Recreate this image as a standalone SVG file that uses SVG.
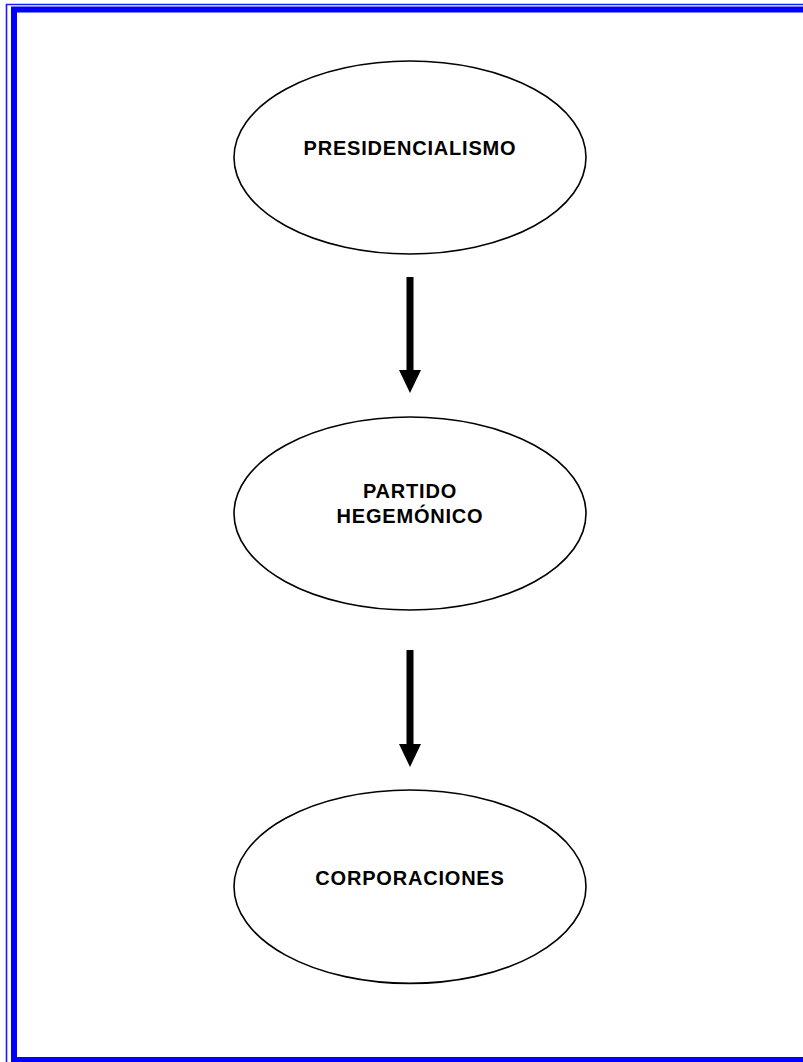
<svg xmlns="http://www.w3.org/2000/svg" width="803" height="1062" viewBox="0 0 803 1062">
  <style>
    .node ellipse { fill: #ffffff; stroke: #000000; stroke-width: 1.6; }
    .node text { font-family: "Liberation Sans", Arial, sans-serif; font-weight: bold; font-size: 20px; letter-spacing: 0.8px; fill: #000000; text-anchor: middle; }
    .shaft { fill: #000000; }
    .frame-thin { fill: none; stroke: #1a1aff; stroke-width: 1.6; }
    .frame-thick { fill: none; stroke: #0000ff; stroke-width: 6; }
  </style>
  <rect x="0" y="0" width="803" height="1062" fill="#ffffff"/>
  <g id="frame">
    <path class="frame-thin" d="M6.5,1062 V4.5 H803"/>
    <path class="frame-thick" d="M14,1070 V9.5 H810 M11,1060 H810"/>
  </g>
  <g id="connectors">
    <g id="arrow1">
      <rect class="shaft" x="406.5" y="277" width="7" height="94"/>
      <polygon class="shaft" points="399,370 421,370 410,393"/>
    </g>
    <g id="arrow2">
      <rect class="shaft" x="406.5" y="650" width="7" height="95"/>
      <polygon class="shaft" points="399,744 421,744 410,767"/>
    </g>
  </g>
  <g id="node-presidencialismo" class="node">
    <ellipse cx="410" cy="157.5" rx="176" ry="96.5"/>
    <text x="410" y="155">PRESIDENCIALISMO</text>
  </g>
  <g id="node-partido" class="node">
    <ellipse cx="410" cy="513.5" rx="176" ry="96.5"/>
    <text x="410" y="498">PARTIDO</text>
    <text x="410" y="523">HEGEMÓNICO</text>
  </g>
  <g id="node-corporaciones" class="node">
    <ellipse cx="410" cy="886.7" rx="176" ry="96.7"/>
    <text x="410" y="885">CORPORACIONES</text>
  </g>
</svg>
